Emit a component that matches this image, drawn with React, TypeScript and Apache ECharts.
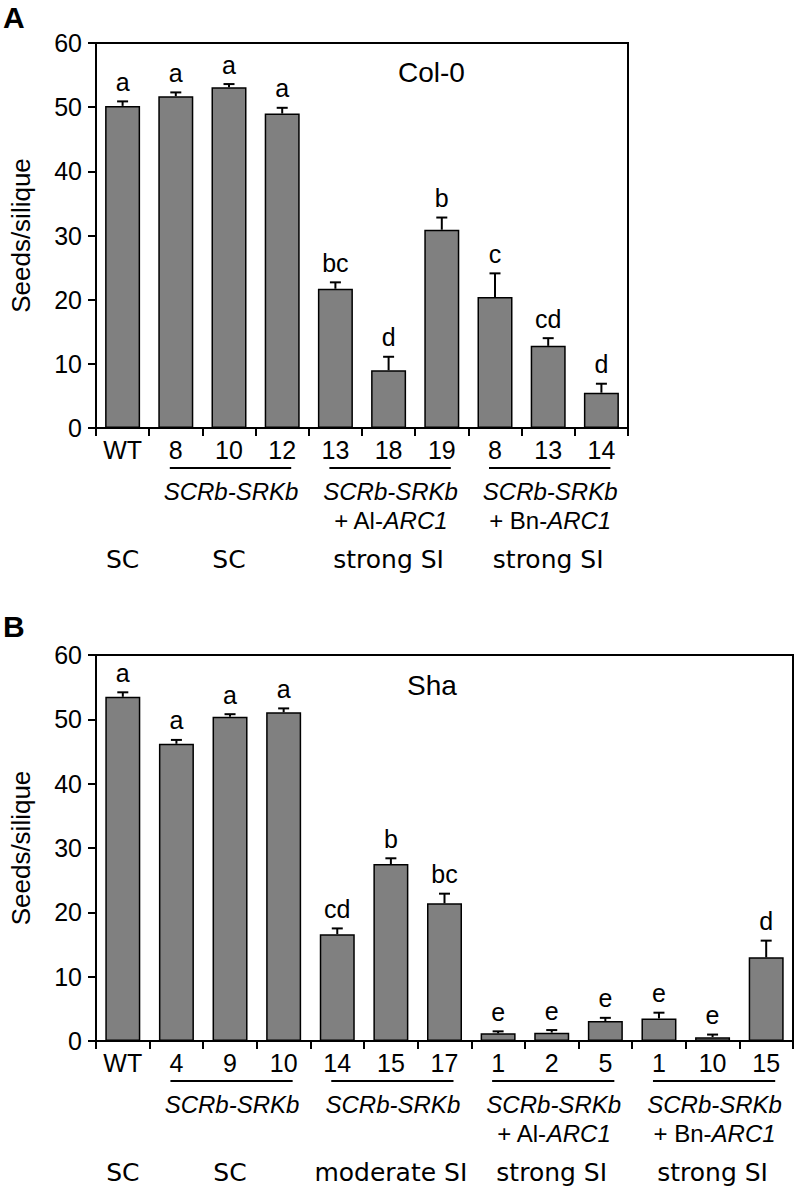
import React, { useEffect, useRef } from "react";
import * as echarts from "echarts";

// ---------- Data ----------
const catsA = ["WT", "8", "10", "12", "13", "18", "19", "8", "13", "14"];
const meanA = [50.2, 51.7, 53.1, 49.0, 21.7, 9.0, 30.9, 20.4, 12.8, 5.5];
const errA = [0.7, 0.6, 0.5, 0.9, 1.0, 2.1, 1.9, 3.7, 1.2, 1.4];
const lettersA = ["a", "a", "a", "a", "bc", "d", "b", "c", "cd", "d"];

const catsB = ["WT", "4", "9", "10", "14", "15", "17", "1", "2", "5", "1", "10", "15"];
const meanB = [53.5, 46.2, 50.4, 51.1, 16.6, 27.5, 21.4, 1.2, 1.3, 3.1, 3.5, 0.6, 13.0];
const errB = [0.7, 0.6, 0.4, 0.6, 0.9, 0.9, 1.5, 0.3, 0.4, 0.5, 0.9, 0.4, 2.6];
const lettersB = ["a", "a", "a", "a", "cd", "b", "bc", "e", "e", "e", "e", "e", "d"];

// groups: [startIndex, endIndex], line1, line2
const groupRangesA = [[1, 3], [4, 6], [7, 9]];
const groupLine1A = ["{i|SCRb-SRKb}", "{i|SCRb-SRKb}", "{i|SCRb-SRKb}"];
const groupLine2A = ["", "+ Al-{i|ARC1}", "+ Bn-{i|ARC1}"];
const phenoRangesA = [[0, 0], [1, 3], [4, 6], [7, 9]];
const phenoTextA = ["SC", "SC", "strong SI", "strong SI"];

const groupRangesB = [[1, 3], [4, 6], [7, 9], [10, 12]];
const groupLine1B = ["{i|SCRb-SRKb}", "{i|SCRb-SRKb}", "{i|SCRb-SRKb}", "{i|SCRb-SRKb}"];
const groupLine2B = ["", "", "+ Al-{i|ARC1}", "+ Bn-{i|ARC1}"];
const phenoRangesB = [[0, 0], [1, 3], [4, 6], [7, 9], [10, 12]];
const phenoTextB = ["SC", "SC", "moderate SI", "strong SI", "strong SI"];

const yTicks = [0, 10, 20, 30, 40, 50, 60];

const FONT = "'Liberation Sans', Arial, Helvetica, sans-serif";
const FONT2 = "'DejaVu Sans', Verdana, sans-serif";

function errorSeries(axisIdx: number, means: number[], errs: number[], letters: string[]) {
  return {
    type: "custom",
    xAxisIndex: axisIdx,
    yAxisIndex: axisIdx,
    z: 5,
    data: means.map((m, i) => [i, m, errs[i]]),
    encode: { x: 0, y: 1 },
    renderItem: (params: any, api: any) => {
      const i = api.value(0);
      const m = api.value(1);
      const e = api.value(2);
      const p0 = api.coord([i, m]);
      const p1 = api.coord([i, m + e]);
      const hw = 5.5;
      return {
        type: "group",
        children: [
          { type: "line", shape: { x1: p0[0], y1: p0[1], x2: p1[0], y2: p1[1] }, style: { stroke: "#000", lineWidth: 2 } },
          { type: "line", shape: { x1: p1[0] - hw, y1: p1[1], x2: p1[0] + hw, y2: p1[1] }, style: { stroke: "#000", lineWidth: 2 } },
          {
            type: "text",
            style: {
              text: letters[params.dataIndex],
              x: p1[0],
              y: p1[1] - 7,
              align: "center",
              verticalAlign: "bottom",
              fontSize: 25,
              fontFamily: FONT,
              fill: "#000",
            },
          },
        ],
      };
    },
  };
}

function groupSeries(axisIdx: number, ranges: number[][], l1: string[], l2: string[], pRanges: number[][], pText: string[]) {
  const items: any[] = [];
  ranges.forEach((r, k) => items.push([r[0], r[1], 0, 0, k]));
  pRanges.forEach((r, k) => items.push([r[0], r[1], 0, 1, k]));
  return {
    type: "custom",
    xAxisIndex: axisIdx,
    yAxisIndex: axisIdx,
    clip: false,
    silent: true,
    data: items,
    encode: { x: [0, 1], y: 2 },
    renderItem: (params: any, api: any) => {
      const a = api.coord([api.value(0), 0]);
      const b = api.coord([api.value(1), 0]);
      const kind = api.value(3);
      const k = api.value(4);
      const y0 = a[1];
      const cx = (a[0] + b[0]) / 2;
      if (kind === 1) {
        return {
          type: "text",
          style: {
            text: pText[k],
            x: cx,
            y: y0 + 131,
            align: "center",
            verticalAlign: "middle",
            fontSize: 25,
            fontFamily: FONT2,
            fill: "#000",
          },
        };
      }
      const rich = { i: { fontStyle: "italic", fontSize: 24, fontFamily: FONT, fill: "#000" } };
      const children: any[] = [
        { type: "line", shape: { x1: a[0] - 6, y1: y0 + 40, x2: b[0] + 9, y2: y0 + 40 }, style: { stroke: "#000", lineWidth: 2 } },
        {
          type: "text",
          style: { text: l1[k], x: cx + 2, y: y0 + 63, align: "center", verticalAlign: "middle", fontSize: 24, fontFamily: FONT, fill: "#000", rich },
        },
      ];
      if (l2[k]) {
        children.push({
          type: "text",
          style: { text: l2[k], x: cx + 2, y: y0 + 92, align: "center", verticalAlign: "middle", fontSize: 24, fontFamily: FONT, fill: "#000", rich },
        });
      }
      return { type: "group", children };
    },
  };
}

function makeX(idx: number, cats: string[]) {
  return {
    type: "category",
    gridIndex: idx,
    data: cats,
    axisLine: { show: true, lineStyle: { color: "#000", width: 2 } },
    axisTick: { show: true, length: 8, lineStyle: { color: "#000", width: 2 } },
    axisLabel: { color: "#000", fontSize: 25, fontFamily: FONT, margin: 9, interval: 0 },
    splitLine: { show: false },
  };
}

function makeY(idx: number) {
  return {
    type: "value",
    gridIndex: idx,
    min: yTicks[0],
    max: yTicks[yTicks.length - 1],
    interval: yTicks[1] - yTicks[0],
    name: "Seeds/silique",
    nameLocation: "middle",
    nameGap: 62,
    nameTextStyle: { color: "#000", fontSize: 26, fontFamily: FONT },
    axisLine: { show: true, lineStyle: { color: "#000", width: 2 } },
    axisTick: { show: true, length: 8, lineStyle: { color: "#000", width: 2 } },
    axisLabel: { color: "#000", fontSize: 25, fontFamily: FONT, margin: 14 },
    splitLine: { show: false },
  };
}

function barSeries(idx: number, means: number[]) {
  return {
    type: "bar",
    xAxisIndex: idx,
    yAxisIndex: idx,
    data: means,
    barWidth: 35,
    itemStyle: { color: "#808080", borderColor: "#000", borderWidth: 1.5 },
    z: 2,
  };
}

export default function App() {
  const ref = useRef<HTMLDivElement>(null);
  useEffect(() => {
    if (!ref.current) return;
    const chart = echarts.init(ref.current, undefined, { renderer: "svg" });
    chart.setOption({
      animation: false,
      backgroundColor: "#fff",
      grid: [
        { left: 88, top: 43, width: 540, height: 385, show: true, borderColor: "#000", borderWidth: 2, backgroundColor: "transparent" },
        { left: 88, top: 655, width: 705, height: 386, show: true, borderColor: "#000", borderWidth: 2, backgroundColor: "transparent" },
      ],
      xAxis: [makeX(0, catsA), makeX(1, catsB)],
      yAxis: [makeY(0), makeY(1)],
      graphic: [
        { type: "text", left: 3, top: 2, style: { text: "A", fontSize: 30, fontWeight: "bold", fontFamily: FONT, fill: "#000" } },
        { type: "text", left: 3, top: 611, style: { text: "B", fontSize: 30, fontWeight: "bold", fontFamily: FONT, fill: "#000" } },
        { type: "text", left: 398, top: 58, style: { text: "Col-0", fontSize: 28, fontFamily: FONT, fill: "#000" } },
        { type: "text", left: 407, top: 671, style: { text: "Sha", fontSize: 28, fontFamily: FONT, fill: "#000" } },
      ],
      series: [
        barSeries(0, meanA),
        errorSeries(0, meanA, errA, lettersA),
        groupSeries(0, groupRangesA, groupLine1A, groupLine2A, phenoRangesA, phenoTextA),
        barSeries(1, meanB),
        errorSeries(1, meanB, errB, lettersB),
        groupSeries(1, groupRangesB, groupLine1B, groupLine2B, phenoRangesB, phenoTextB),
      ],
    });
    return () => chart.dispose();
  }, []);
  return <div ref={ref} style={{ position: "absolute", left: 0, top: 0, width: 796, height: 1188 }} />;
}
